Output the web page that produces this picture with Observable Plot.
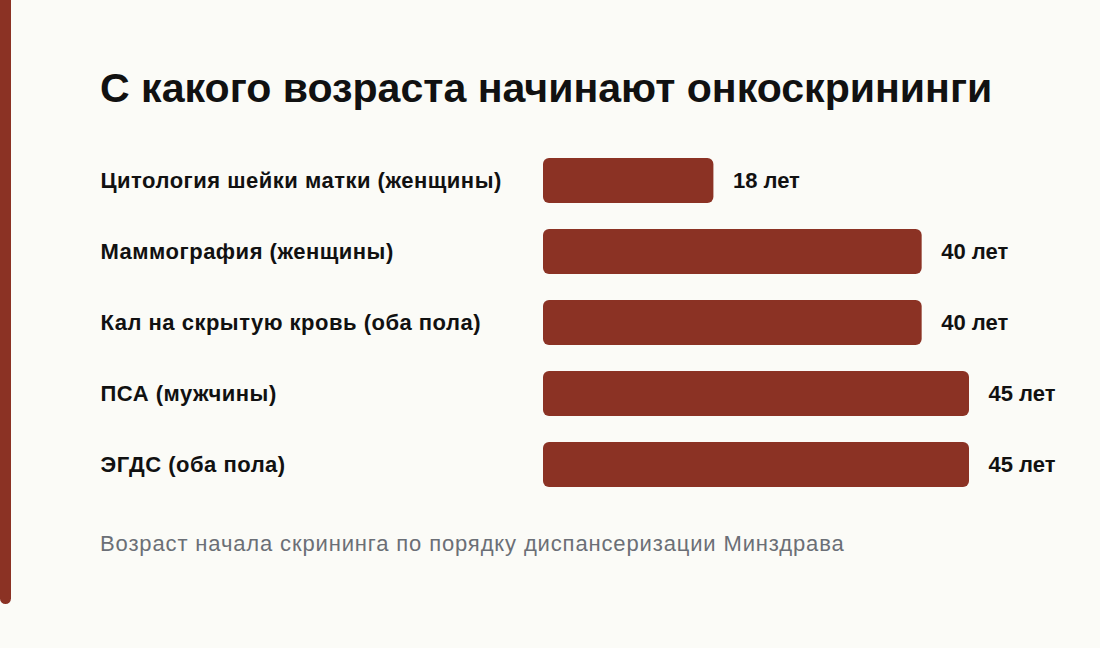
<!DOCTYPE html>
<html><head><meta charset="utf-8">
<script src="https://cdn.jsdelivr.net/npm/d3@7"></script>
<script src="https://cdn.jsdelivr.net/npm/@observablehq/plot@0.6"></script>
<style>
html,body{margin:0;padding:0;background:#fbfbf7;width:1100px;height:648px;overflow:hidden;font-family:"Liberation Sans",Arial,Helvetica,sans-serif;}
#stripe{position:absolute;left:0;top:-10px;width:11px;height:614px;background:#8b3224;border-radius:0 0 6px 6px;}
#title{position:absolute;left:100px;top:68px;margin:0;font-size:41.1px;line-height:1;font-weight:700;color:#111;white-space:nowrap;}
#chart{position:absolute;left:0;top:144px;}
#caption{position:absolute;left:100px;top:533px;font-size:22px;line-height:1;letter-spacing:0.86px;color:#6b6f76;white-space:nowrap;}
</style></head>
<body>
<div id="stripe"></div>
<h1 id="title">С какого возраста начинают онкоскрининги</h1>
<div id="chart"></div>
<div id="caption">Возраст начала скрининга по порядку диспансеризации Минздрава</div>
<script>
const categories = ["Цитология шейки матки (женщины)", "Маммография (женщины)", "Кал на скрытую кровь (оба пола)", "ПСА (мужчины)", "ЭГДС (оба пола)"];
const ages = [18, 40, 40, 45, 45];
const valueLabels = ["18 лет", "40 лет", "40 лет", "45 лет", "45 лет"];
const data = categories.map((c, i) => ({name: c, age: ages[i], label: valueLabels[i]}));

const marginLeft = 543;
const chart = Plot.plot({
  width: 1100,
  height: 356,
  marginLeft,
  marginRight: 131,
  marginTop: 0,
  marginBottom: 0,
  style: {background: "transparent", fontFamily: "Liberation Sans, Arial, sans-serif", overflow: "visible"},
  x: {domain: [0, 45], axis: null},
  y: {domain: categories, axis: null, paddingInner: 0.368, paddingOuter: 0.184},
  marks: [
    Plot.barX(data, {x: "age", y: "name", fill: "#8b3224", rx: 6}),
    Plot.text(data, {y: "name", text: "name", frameAnchor: "left", textAnchor: "start", dx: -(marginLeft - 100), fontSize: 22, fontWeight: 700, fill: "#111"}),
    Plot.text(data, {x: "age", y: "name", text: "label", textAnchor: "start", dx: 19, fontSize: 22, fontWeight: 700, fill: "#111"})
  ]
});
const textGroups = chart.querySelectorAll('g[aria-label="text"]');
if (textGroups[0]) textGroups[0].setAttribute("letter-spacing", "0.5");
document.getElementById("chart").appendChild(chart);
</script>
</body></html>
